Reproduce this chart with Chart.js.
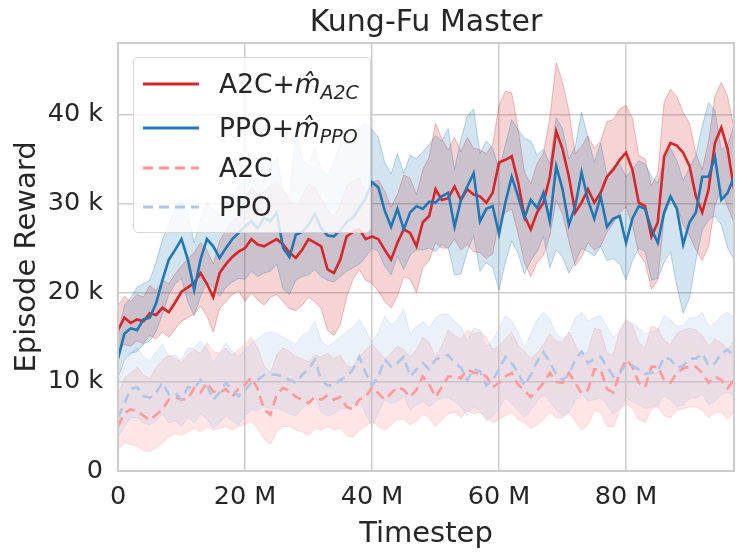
<!DOCTYPE html>
<html>
<head>
<meta charset="utf-8">
<script src="https://cdn.jsdelivr.net/npm/chart.js@4.4.1/dist/chart.umd.min.js"></script>
<style>
  body { margin: 0; background: #fff; }
  #wrap { position: relative; width: 747px; height: 560px; }
  #legend {
    position: absolute; left: 133px; top: 57px; width: 238px; height: 176px;
    box-sizing: border-box; background: rgba(255,255,255,0.8);
    border: 1px solid #d6d6d6; border-radius: 5px;
    font-family: "DejaVu Sans", sans-serif; font-size: 26.5px; color: #262626;
  }
  #legend .row { position: absolute; left: 0; height: 40px; line-height: 40px; white-space: nowrap; }
  #legend svg { position: absolute; left: 9px; top: 17px; }
  #legend span { position: absolute; left: 85px; }
  #legend sub { font-size: 19px; font-style: italic; vertical-align: -6px; line-height: 0; }
</style>
</head>
<body>
<div id="wrap">
  <canvas id="myChart" width="747" height="560"></canvas>
  <div id="legend">
    <div class="row" style="top:6px"><svg width="56" height="6"><line x1="0" y1="3" x2="56" y2="3" stroke="#d62728" stroke-width="3"/></svg><span>A2C+<i>m&#770;</i><sub>A2C</sub></span></div>
    <div class="row" style="top:50px"><svg width="56" height="6"><line x1="0" y1="3" x2="56" y2="3" stroke="#1f77b4" stroke-width="3"/></svg><span>PPO+<i>m&#770;</i><sub>PPO</sub></span></div>
    <div class="row" style="top:90px"><svg width="56" height="6"><line x1="0" y1="3" x2="56" y2="3" stroke="#ff9896" stroke-width="3" stroke-dasharray="10,6"/></svg><span>A2C</span></div>
    <div class="row" style="top:129px"><svg width="56" height="6"><line x1="0" y1="3" x2="56" y2="3" stroke="#aec7e8" stroke-width="3" stroke-dasharray="10,6"/></svg><span>PPO</span></div>
  </div>
</div>
<script>
// timesteps in millions, rewards in thousands

let steps = [0,1,2,3,4,5,6,7,8,9,10,11,12,13,14,15,16,17,18,19,20,21,22,23,24,25,26,27,28,29,30,31,32,33,34,35,36,37,38,39,40,41,42,43,44,45,46,47,48,49,50,51,52,53,54,55,56,57,58,59,60,61,62,63,64,65,66,67,68,69,70,71,72,73,74,75,76,77,78,79,80,81,82,83,84,85,86,87,88,89,90,91,92,93,94,95,96,97];

let xTicks = [0, 20, 40, 60, 80];
let yTicks = [0, 10, 20, 30, 40];

// A2C + m_hat
let a2cMMean = [15.8,17.2,16.6,17.0,16.8,17.7,17.5,18.3,17.8,18.9,20.1,20.6,21.1,22.2,21.0,19.5,22.2,23.2,24.0,24.6,25.0,26.0,25.4,25.2,25.6,26.0,25.4,24.5,23.9,24.8,26.0,25.6,25.2,22.6,22.2,23.7,26.3,26.8,27.1,26.0,26.3,26.0,24.8,23.7,25.6,27.1,26.7,25.2,27.9,28.6,31.6,30.4,30.6,31.9,30.4,31.6,31.0,30.8,30.1,31.2,34.6,34.9,35.3,32.4,28.6,27.1,29.0,30.1,33.0,38.1,36.1,33.0,29.0,30.1,31.6,30.1,31.2,33.0,33.8,34.9,35.7,33.8,30.1,29.7,26.3,27.9,35.3,36.8,36.5,35.7,34.2,30.8,29.0,31.6,36.8,38.5,36.1,31.6];
let a2cMLow = [13.5,14.2,14.0,14.6,14.3,15.2,14.8,15.6,15.0,15.9,16.8,17.2,17.6,18.5,17.4,15.6,18.2,19.0,19.8,20.2,19.0,20.0,19.2,18.6,19.5,19.8,19.0,18.2,18.0,18.6,19.5,19.0,18.2,15.8,15.2,16.4,19.5,21.5,22.6,21.4,21.0,20.2,19.0,18.3,19.6,21.8,21.5,20.0,22.8,23.6,25.6,25.0,25.0,26.0,24.8,25.4,24.6,24.5,23.8,24.4,28.0,29.0,29.4,26.6,23.4,21.8,23.4,24.2,26.4,30.4,28.8,25.8,23.0,24.0,25.6,24.8,25.2,26.8,27.8,29.0,29.6,27.6,24.4,23.4,20.4,21.4,28.6,30.4,29.8,27.6,26.4,24.8,23.6,25.2,29.8,31.6,29.6,27.9];
let a2cMHigh = [18.5,19.6,19.0,19.8,19.5,20.8,20.2,21.4,21.0,22.1,23.0,23.8,24.5,25.6,24.8,23.2,25.8,27.0,28.0,28.6,30.5,31.8,31.0,31.2,32.0,32.5,31.5,30.4,29.6,30.8,32.2,31.8,30.5,29.2,28.6,29.8,32.0,32.6,32.8,31.2,32.4,32.6,31.4,29.6,31.0,33.2,32.8,31.0,33.8,35.2,39.0,37.2,36.0,37.4,35.8,37.4,36.2,36.0,35.6,36.6,41.0,42.6,42.4,38.4,33.5,32.2,34.5,35.6,39.6,45.8,43.6,40.4,35.6,36.4,37.6,36.2,37.0,39.2,39.4,40.6,41.0,39.6,35.4,35.0,32.0,33.4,41.4,42.8,42.0,40.2,39.0,35.6,33.8,37.0,42.0,43.6,42.0,38.5];

// PPO + m_hat
let ppoMMean = [12.6,15.4,16.0,15.8,17.0,17.2,18.8,21.4,23.7,24.8,26.0,23.7,20.3,23.7,26.0,25.2,23.9,25.0,26.0,26.7,27.4,28.0,27.2,28.4,28.0,29.0,25.0,24.0,26.5,26.8,27.6,28.8,27.2,26.4,26.3,27.0,27.9,28.4,29.5,30.6,32.4,31.8,29.2,27.4,29.4,27.1,29.0,29.7,29.4,30.2,30.1,30.8,31.2,27.4,30.4,31.9,33.4,28.0,29.4,29.7,26.6,30.1,33.0,30.8,28.4,30.4,29.5,31.2,28.0,34.2,31.6,27.6,29.7,33.5,30.4,28.3,30.8,27.4,28.3,28.6,25.6,28.3,29.7,29.4,27.1,25.6,29.0,30.8,29.4,25.4,27.9,29.0,33.0,33.0,35.2,30.4,31.2,33.0];
let ppoMLow = [10.4,12.4,13.2,13.4,14.2,14.6,15.6,17.6,19.8,21.0,21.6,19.0,17.4,19.6,21.2,20.6,19.6,20.6,21.2,21.6,21.5,22.4,21.8,22.2,22.4,23.2,20.4,19.8,21.4,21.8,22.0,22.6,21.8,21.4,21.2,21.8,22.4,22.8,23.2,24.0,25.0,24.6,23.0,22.0,24.1,22.6,24.2,24.8,24.8,25.0,24.6,25.4,25.0,22.0,22.1,24.6,26.4,22.4,23.4,22.8,20.3,23.4,25.8,24.4,22.1,23.6,24.6,26.3,22.8,24.8,24.0,22.2,23.4,25.0,24.6,24.1,25.2,23.6,23.8,23.2,21.4,23.6,25.0,24.6,21.4,21.6,23.4,24.6,20.7,17.7,19.4,23.6,27.0,28.2,28.6,27.6,25.0,23.8];
let ppoMHigh = [15.2,18.6,19.4,20.6,21.0,21.4,23.4,26.0,27.8,29.4,30.4,28.8,25.6,28.2,30.2,29.4,28.6,30.0,31.0,32.0,32.8,33.4,32.6,34.6,34.0,35.2,31.6,30.6,38.6,35.0,34.2,36.2,33.8,33.2,34.6,36.8,37.4,37.0,38.6,39.0,38.3,37.4,34.6,33.3,35.6,33.4,35.4,35.0,35.8,36.6,37.6,37.0,38.4,33.8,37.2,39.8,40.6,35.6,37.0,36.2,33.8,36.6,39.4,38.3,37.3,37.0,35.4,36.1,34.4,39.6,38.4,35.0,36.4,40.2,37.4,34.6,36.8,33.2,34.2,34.4,33.0,33.8,34.8,34.4,33.0,32.3,34.8,36.2,34.8,32.6,34.0,35.4,38.7,41.3,40.4,36.0,36.6,38.8];

// A2C
let a2cMean = [5.0,6.5,6.9,6.7,6.2,5.7,6.3,6.9,8.0,8.3,8.0,8.1,9.3,8.8,9.9,8.9,8.8,9.2,8.3,9.3,9.7,10.5,9.2,6.9,6.3,8.6,9.3,9.0,8.3,8.0,7.6,8.3,8.0,8.5,8.0,8.3,7.2,6.9,8.0,8.3,9.4,8.7,8.0,8.7,9.4,9.1,8.3,9.1,10.6,9.7,8.3,9.4,10.6,10.6,10.4,11.4,11.0,11.0,10.6,9.4,9.9,10.6,11.0,9.7,9.0,8.3,9.0,9.9,11.0,10.0,9.9,11.0,9.9,8.7,9.1,11.4,11.4,9.2,8.8,11.0,12.5,11.7,9.9,9.4,11.7,11.7,10.2,9.9,11.0,11.5,11.7,11.7,11.0,9.9,10.6,10.2,9.3,10.2];
let a2cLow = [2.4,3.2,3.0,2.8,2.3,2.2,2.6,3.2,3.8,4.2,4.0,4.4,4.8,4.4,5.0,4.6,4.8,5.0,4.6,5.0,5.2,5.6,4.8,3.6,3.0,4.4,5.0,5.0,4.6,4.4,4.0,4.8,4.6,5.0,4.6,4.8,4.0,3.8,4.6,5.0,5.6,5.0,4.6,5.2,5.8,5.8,5.2,5.6,6.4,6.0,5.0,5.8,6.4,6.6,6.0,6.8,6.4,6.6,6.0,5.4,5.8,6.2,6.6,5.8,5.4,4.8,5.2,5.8,6.6,6.0,6.0,6.6,5.6,4.6,5.2,6.8,6.6,5.0,5.0,6.8,7.6,7.0,5.8,5.4,7.0,7.2,6.2,6.0,6.8,7.0,7.2,7.2,6.8,6.0,6.6,6.6,5.8,6.6];
let a2cHigh = [8.6,10.4,11.0,11.6,10.8,10.4,11.6,12.4,13.0,12.6,12.2,13.0,13.6,13.2,14.4,13.4,13.2,13.8,13.0,13.6,14.2,15.0,13.8,11.8,11.0,13.0,13.8,13.4,12.8,12.6,12.2,13.0,12.8,13.2,12.6,13.0,11.8,11.6,12.8,13.6,14.2,13.4,12.6,13.2,14.0,13.6,12.8,13.6,15.0,14.4,12.8,14.0,15.8,15.2,14.8,15.8,15.4,15.6,15.0,13.6,14.0,14.8,15.6,14.0,13.4,12.6,13.2,14.2,15.4,14.6,14.4,15.6,14.2,12.8,13.4,16.0,15.8,13.2,13.0,15.8,17.0,16.4,14.4,13.8,16.2,16.0,14.6,14.2,15.4,15.8,16.0,15.8,15.2,14.0,14.8,14.4,13.6,14.6];

// PPO
let ppoMean = [6.0,7.6,9.2,9.4,8.4,8.2,8.8,9.9,8.6,8.8,8.0,9.4,9.3,10.2,9.6,8.0,8.8,9.9,9.1,8.4,9.1,9.9,10.2,10.8,10.8,10.8,10.6,10.2,9.9,10.8,11.4,12.5,10.2,9.6,9.6,10.2,10.6,11.4,12.8,11.0,9.6,10.6,12.5,11.7,12.1,12.8,10.6,11.4,12.1,11.4,12.5,12.8,13.0,12.1,11.6,10.2,11.4,11.2,9.6,10.2,11.4,12.8,12.1,11.0,9.6,10.8,12.3,13.3,12.2,10.8,10.2,10.8,12.5,13.4,12.1,12.6,12.8,11.7,10.6,11.0,12.0,11.8,11.4,10.9,11.0,11.2,12.8,12.5,11.6,11.8,12.6,12.6,13.2,11.8,12.1,13.2,13.6,12.8];
let ppoLow = [3.8,5.0,6.0,6.0,5.4,5.2,5.6,6.4,5.4,5.6,5.0,6.0,5.4,6.4,5.8,4.8,5.4,6.2,5.6,5.2,6.2,6.8,6.8,7.2,7.0,7.0,6.8,6.4,6.2,7.0,7.6,8.4,6.6,6.2,6.4,7.0,7.0,7.6,8.0,6.4,5.0,6.6,8.0,7.6,7.8,8.4,6.8,7.4,7.8,7.2,7.8,8.2,8.2,7.8,7.2,6.2,7.2,6.8,5.6,6.2,7.0,8.2,7.6,6.8,6.0,6.8,7.8,8.6,7.8,6.8,6.2,6.6,7.8,8.6,7.8,8.0,8.2,7.4,6.4,7.0,8.2,7.8,7.4,7.0,7.2,7.4,8.4,8.0,7.2,7.4,8.2,8.2,8.6,7.4,7.8,8.6,8.8,8.4];
let ppoHigh = [10.0,11.6,13.2,13.8,12.8,12.4,13.4,14.2,12.8,13.0,12.4,13.8,13.8,14.6,13.8,12.2,13.2,14.4,13.4,12.8,13.6,14.4,14.8,15.4,15.6,15.4,15.0,14.6,14.2,15.2,15.6,16.8,14.6,14.0,14.4,15.0,15.6,16.2,17.0,15.8,14.4,15.6,17.4,16.4,17.0,18.1,15.4,16.2,16.8,16.0,17.2,17.6,17.6,16.8,16.2,14.6,16.0,15.8,14.0,14.6,16.0,17.4,16.8,15.6,13.8,15.4,17.0,17.8,17.0,15.4,14.8,15.4,17.2,17.8,16.8,17.2,17.4,16.2,15.0,15.6,16.8,16.6,16.0,15.4,15.6,15.8,17.4,17.0,16.2,16.4,17.2,17.2,17.8,16.2,16.6,17.4,17.8,17.2];

let chartTitle = "Kung-Fu Master";

function pts(arr) {
  return steps.map(function (s, i) { return { x: s, y: arr[i] }; });
}

function meanLine(label, arr, color, dash, order) {
  return {
    label: label, data: pts(arr), borderColor: color, borderWidth: 2.6,
    borderDash: dash, pointRadius: 0, fill: false, order: order,
  };
}

function bandLow(arr, edge, order) {
  return { data: pts(arr), borderColor: edge, borderWidth: 1, pointRadius: 0, fill: false, order: order };
}

function bandHigh(arr, edge, fillColor, order) {
  return { data: pts(arr), borderColor: edge, borderWidth: 1, pointRadius: 0, fill: "-1", backgroundColor: fillColor, order: order };
}

// gray frame around the plot + title centred over the axes (matplotlib style)
const framePlugin = {
  id: "frame",
  afterDatasetsDraw(chart) {
    const a = chart.chartArea;
    const c = chart.ctx;
    c.save();
    c.strokeStyle = "#cccccc";
    c.lineWidth = 2;
    c.strokeRect(a.left, a.top, a.right - a.left, a.bottom - a.top);
    c.fillStyle = "#262626";
    c.font = "30px 'DejaVu Sans'";
    c.textAlign = "center";
    c.textBaseline = "middle";
    c.fillText(chartTitle, (a.left + a.right) / 2, 23);
    c.restore();
  },
};

Chart.defaults.font.family = "DejaVu Sans";
Chart.defaults.color = "#262626";

let ctx = document.getElementById("myChart").getContext("2d");

let myChart = new Chart(ctx, {
  type: "line",
  data: {
    datasets: [
      meanLine("PPO+m_PPO", ppoMMean, "#1f77b4", [], 0),
      meanLine("A2C+m_A2C", a2cMMean, "#d62728", [], 1),
      meanLine("PPO", ppoMean, "#aec7e8", [10, 6], 2),
      meanLine("A2C", a2cMean, "#ff9896", [10, 6], 3),
      bandLow(ppoMLow, "rgba(31,119,180,0.3)", 10),
      bandHigh(ppoMHigh, "rgba(31,119,180,0.3)", "rgba(31,119,180,0.2)", 10),
      bandLow(a2cMLow, "rgba(214,39,40,0.3)", 11),
      bandHigh(a2cMHigh, "rgba(214,39,40,0.3)", "rgba(214,39,40,0.2)", 11),
      bandLow(ppoLow, "rgba(174,199,232,0.35)", 12),
      bandHigh(ppoHigh, "rgba(174,199,232,0.35)", "rgba(174,199,232,0.25)", 12),
      bandLow(a2cLow, "rgba(255,152,150,0.35)", 13),
      bandHigh(a2cHigh, "rgba(255,152,150,0.35)", "rgba(255,152,150,0.25)", 13),
    ],
  },
  options: {
    responsive: false,
    animation: false,
    layout: { padding: { left: 0, right: 13, top: 43, bottom: 0 } },
    plugins: {
      legend: { display: false },
      tooltip: { enabled: false },
      title: { display: false },
    },
    scales: {
      x: {
        type: "linear",
        min: 0,
        max: 97,
        afterBuildTicks: function (scale) {
          scale.ticks = xTicks.map(function (v) { return { value: v }; });
        },
        afterFit: function (scale) { scale.height = 89; },
        grid: { color: "#cccccc", lineWidth: 1.5, drawTicks: false },
        border: { display: false },
        ticks: {
          font: { size: 25.5 },
          padding: 11,
          maxRotation: 0,
          callback: function (v) { return v === 0 ? "0" : v + " M"; },
        },
        title: { display: true, text: "Timestep", font: { size: 29 }, padding: { top: 0, bottom: 8 } },
      },
      y: {
        min: 0,
        max: 48,
        afterBuildTicks: function (scale) {
          scale.ticks = yTicks.map(function (v) { return { value: v }; });
        },
        afterFit: function (scale) { scale.width = 118; },
        grid: { color: "#cccccc", lineWidth: 1.5, drawTicks: false },
        border: { display: false },
        ticks: {
          font: { size: 25.5 },
          padding: 15,
          callback: function (v) { return v === 0 ? "0" : v + " k"; },
        },
        title: { display: true, text: "Episode Reward", font: { size: 29 }, padding: { top: 10, bottom: 0 } },
      },
    },
  },
  plugins: [framePlugin],
});
</script>
</body>
</html>
